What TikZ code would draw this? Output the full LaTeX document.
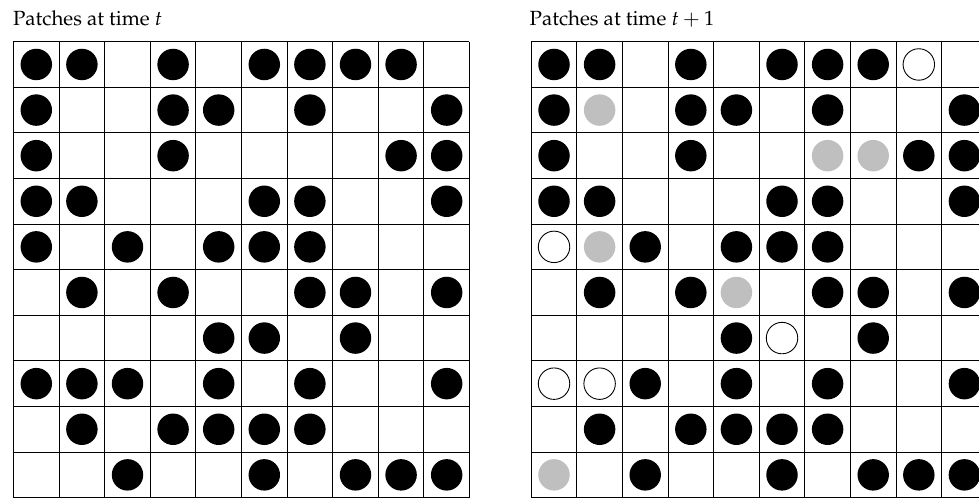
\documentclass[tikz,border=0pt]{standalone}
\usepackage[T1]{fontenc}
\usepackage{mathpazo}
\usetikzlibrary{positioning}
\definecolor{PatchGray}{rgb}{0.75,0.75,0.75}
\def\rad{0.345}

\tikzset{
  cellline/.style={line width=0.6pt},
  occupied/.style={fill=black},
  colonized/.style={fill=PatchGray},
  extinct/.style={draw=black, line width=0.55pt, fill=white},
  gridtitle/.style={anchor=base west, inner sep=0pt, font=\fontsize{12.8}{15}\selectfont},
}

% 0 empty, 1 occupied, 2 colonized, 3 extinct
\newcommand\patchgrid[2]{%
  \begin{scope}[shift={(#1,-0.914)}]
    \foreach \k in {0,...,10}{
      \draw[cellline] (\k,0) -- (\k,-10);
      \draw[cellline] (0,-\k) -- (10,-\k);
    }
    \foreach \row [count=\j] in {#2}{
      \foreach \v [count=\i] in \row{
        \ifcase\v
        \or \fill[occupied] (\i-0.5,-\j+0.5) circle (\rad);
        \or \fill[colonized] (\i-0.5,-\j+0.5) circle (\rad);
        \or \draw[extinct] (\i-0.5,-\j+0.5) circle (\rad);
        \fi
      }
    }
  \end{scope}%
}

\begin{document}
\begin{tikzpicture}
\useasboundingbox (0,0) rectangle (21.47,-10.94);
\clip (0,0) rectangle (21.47,-10.94);

% titulos
\node[gridtitle] (titleOld) at (0.28,-0.55) {Patches at time $t$};
\node[gridtitle] (titleNew) at (11.61,-0.55) {Patches at time $t + 1$};

% tiempo t
\patchgrid{0.296}{%
  {1,1,0,1,0,1,1,1,1,0},
  {1,0,0,1,1,0,1,0,0,1},
  {1,0,0,1,0,0,0,0,1,1},
  {1,1,0,0,0,1,1,0,0,1},
  {1,0,1,0,1,1,1,0,0,0},
  {0,1,0,1,0,0,1,1,0,1},
  {0,0,0,0,1,1,0,1,0,0},
  {1,1,1,0,1,0,1,0,0,1},
  {0,1,0,1,1,1,1,0,0,0},
  {0,0,1,0,0,1,0,1,1,1}}

% tiempo t+1
\patchgrid{11.65}{%
  {1,1,0,1,0,1,1,1,3,0},
  {1,2,0,1,1,0,1,0,0,1},
  {1,0,0,1,0,0,2,2,1,1},
  {1,1,0,0,0,1,1,0,0,1},
  {3,2,1,0,1,1,1,0,0,0},
  {0,1,0,1,2,0,1,1,0,1},
  {0,0,0,0,1,3,0,1,0,0},
  {3,3,1,0,1,0,1,0,0,1},
  {0,1,0,1,1,1,1,0,0,0},
  {2,0,1,0,0,1,0,1,1,1}}

\end{tikzpicture}
\end{document}
